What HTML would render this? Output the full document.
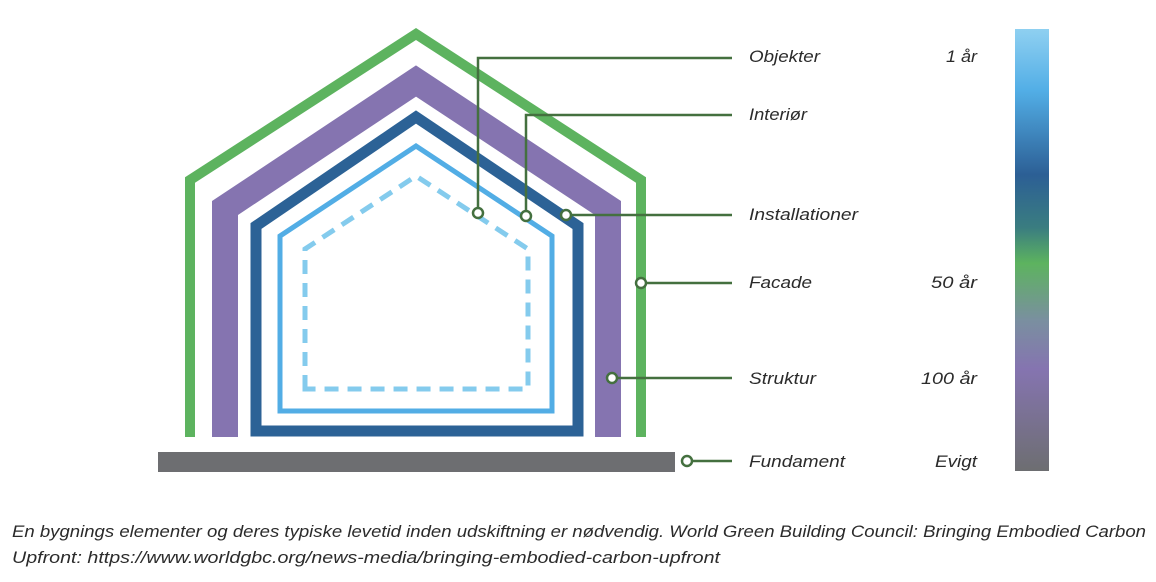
<!DOCTYPE html>
<html><head><meta charset="utf-8"><style>
html,body{margin:0;padding:0;background:#fff;}
svg{display:block;}
text{font-family:"Liberation Sans",sans-serif;font-style:italic;fill:#2b2b2b;}
</style></head><body>
<svg width="1156" height="582" viewBox="0 0 1156 582" xmlns="http://www.w3.org/2000/svg">
<defs>
<linearGradient id="g" x1="0" y1="0" x2="0" y2="1">
<stop offset="0" stop-color="#8fd0f1"/>
<stop offset="0.14" stop-color="#52aee6"/>
<stop offset="0.33" stop-color="#2c5f95"/>
<stop offset="0.45" stop-color="#3a7d80"/>
<stop offset="0.53" stop-color="#5db35f"/>
<stop offset="0.66" stop-color="#7a8fa0"/>
<stop offset="0.77" stop-color="#8574b0"/>
<stop offset="1" stop-color="#6d6e71"/>
</linearGradient>
</defs>
<polyline points="190,437 190,180 416,34 641,180 641,437" fill="none" stroke="#5db35f" stroke-width="10" stroke-linejoin="miter"/>
<polyline points="225,437 225,208 416,81 608,208 608,437" fill="none" stroke="#8574b0" stroke-width="26" stroke-linejoin="miter"/>
<polygon points="256,431 256,226 416,117 578,226 578,431" fill="none" stroke="#2c6296" stroke-width="11" stroke-linejoin="miter"/>
<polygon points="280,411 280,236 416,146 552,236 552,411" fill="none" stroke="#52ade5" stroke-width="5" stroke-linejoin="miter"/>
<polygon points="305,389 305,249 416,176 528,249 528,389" fill="none" stroke="#84cbed" stroke-width="5" stroke-dasharray="14,9" stroke-linejoin="miter"/>
<rect x="158" y="452" width="517" height="20" fill="#6d6e71"/>
<g fill="none" stroke="#44703f" stroke-width="2.5">
<polyline points="478,208 478,58 732,58"/>
<polyline points="526,211 526,115 732,115"/>
<line x1="571" y1="215" x2="732" y2="215"/>
<line x1="646" y1="283" x2="732" y2="283"/>
<line x1="617" y1="378" x2="732" y2="378"/>
<line x1="692" y1="461" x2="732" y2="461"/>
</g>
<g fill="#fff" stroke="#44703f" stroke-width="2.5">
<circle cx="478" cy="213" r="5"/>
<circle cx="526" cy="216" r="5"/>
<circle cx="566" cy="215" r="5"/>
<circle cx="641" cy="283" r="5"/>
<circle cx="612" cy="378" r="5"/>
<circle cx="687" cy="461" r="5"/>
</g>
<g font-size="17">
<text x="749" y="62" textLength="71" lengthAdjust="spacingAndGlyphs">Objekter</text>
<text x="749" y="120" textLength="58" lengthAdjust="spacingAndGlyphs">Interiør</text>
<text x="749" y="220" textLength="109" lengthAdjust="spacingAndGlyphs">Installationer</text>
<text x="749" y="288" textLength="63" lengthAdjust="spacingAndGlyphs">Facade</text>
<text x="749" y="384" textLength="67" lengthAdjust="spacingAndGlyphs">Struktur</text>
<text x="749" y="467" textLength="96" lengthAdjust="spacingAndGlyphs">Fundament</text>
<text x="946" y="62" textLength="31" lengthAdjust="spacingAndGlyphs">1 år</text>
<text x="931" y="288" textLength="46" lengthAdjust="spacingAndGlyphs">50 år</text>
<text x="921" y="384" textLength="56" lengthAdjust="spacingAndGlyphs">100 år</text>
<text x="935" y="467" textLength="42" lengthAdjust="spacingAndGlyphs">Evigt</text>
</g>
<rect x="1015" y="29" width="34" height="442" fill="url(#g)"/>
<g font-size="17">
<text x="12" y="537" textLength="1134" lengthAdjust="spacingAndGlyphs">En bygnings elementer og deres typiske levetid inden udskiftning er nødvendig. World Green Building Council: Bringing Embodied Carbon</text>
<text x="12" y="563" textLength="708" lengthAdjust="spacingAndGlyphs">Upfront: https://www.worldgbc.org/news-media/bringing-embodied-carbon-upfront</text>
</g>
</svg>
</body></html>
